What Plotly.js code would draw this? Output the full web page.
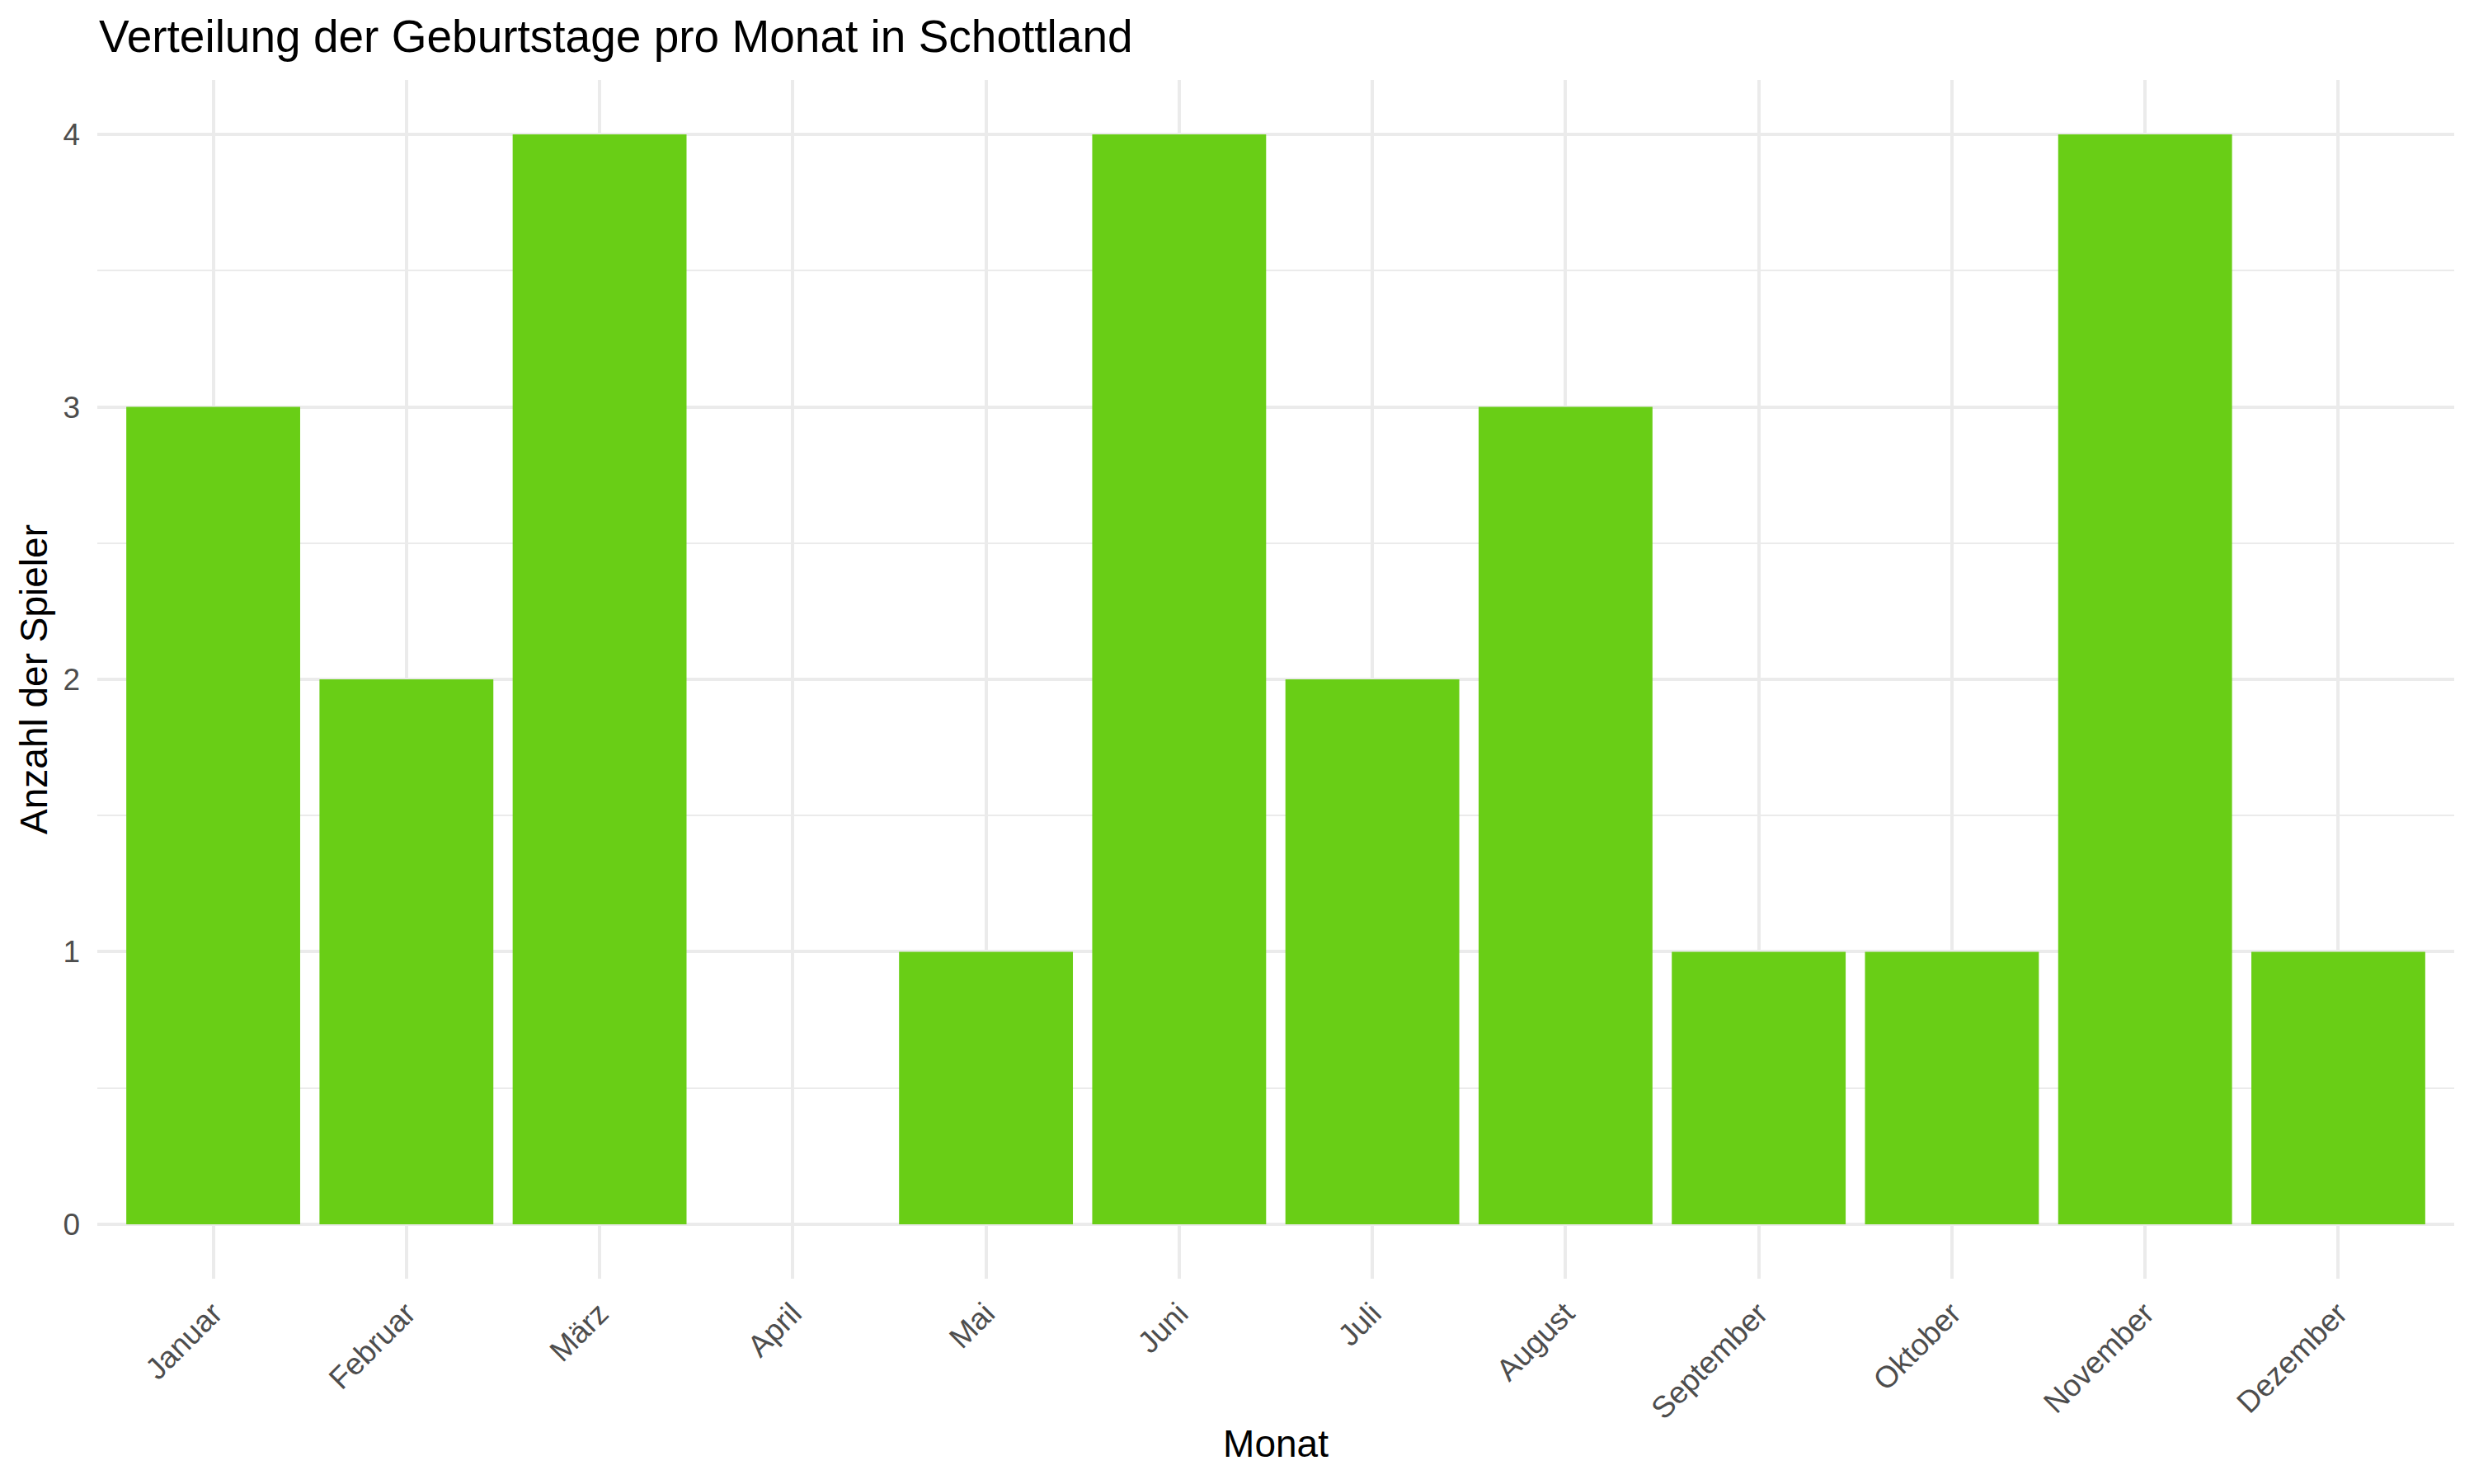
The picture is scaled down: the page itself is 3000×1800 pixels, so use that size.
<!DOCTYPE html>
<html>
<head>
<meta charset="utf-8">
<script src="https://cdn.plot.ly/plotly-3.0.1.min.js"></script>
<style>html,body{margin:0;padding:0;background:#fff;}#chart{width:3000px;height:1800px;}</style>
</head>
<body>
<div id="chart"></div>
<script>
const months = ["Januar","Februar","März","April","Mai","Juni","Juli","August","September","Oktober","November","Dezember"];
const counts = [3, 2, 4, 0, 1, 4, 2, 3, 1, 1, 4, 1];
const yTicks = [0, 1, 2, 3, 4];

const FONT = '"Liberation Sans", Arial, Helvetica, sans-serif';

const trace = {
  type: 'bar',
  x: months,
  y: counts,
  width: 0.9,
  marker: {color: '#69CE16', line: {width: 0}},
  hoverinfo: 'x+y'
};

const layout = {
  width: 3000,
  height: 1800,
  paper_bgcolor: '#ffffff',
  plot_bgcolor: '#ffffff',
  showlegend: false,
  margin: {l: 118, r: 24, t: 97, b: 249, pad: 0},
  font: {family: FONT, color: '#000000'},
  title: {
    text: 'Verteilung der Geburtstage pro Monat in Schottland',
    font: {family: FONT, size: 55, color: '#000000'},
    x: 120/3000, xref: 'container', xanchor: 'left',
    y: 1 - 44/1800, yref: 'container', yanchor: 'middle'
  },
  xaxis: {
    type: 'category',
    categoryorder: 'array',
    categoryarray: months,
    range: [-0.6, 11.6],
    showgrid: true,
    gridcolor: '#EBEBEB',
    gridwidth: 4,
    zeroline: false,
    showline: false,
    ticks: '',
    tickangle: -45,
    tickfont: {family: FONT, size: 37, color: '#4D4D4D'},
    ticklabelstandoff: 12,
    automargin: false,
    title: {text: 'Monat', font: {family: FONT, size: 46, color: '#000000'}, standoff: 6}
  },
  yaxis: {
    range: [-0.2, 4.2],
    tickvals: yTicks,
    ticktext: yTicks.map(String),
    showgrid: true,
    gridcolor: '#EBEBEB',
    gridwidth: 4,
    zeroline: false,
    showline: false,
    ticks: '',
    tickfont: {family: FONT, size: 37, color: '#4D4D4D'},
    ticklabelstandoff: 20,
    automargin: false,
    minor: {dtick: 0.5, tick0: 0, showgrid: true, gridcolor: '#EBEBEB', gridwidth: 2, ticks: ''},
    title: {text: 'Anzahl der Spieler', font: {family: FONT, size: 46, color: '#000000'}, standoff: 4}
  },
  bargap: 0.1
};

Plotly.newPlot('chart', [trace], layout, {displayModeBar: false, staticPlot: true});
</script>
</body>
</html>
